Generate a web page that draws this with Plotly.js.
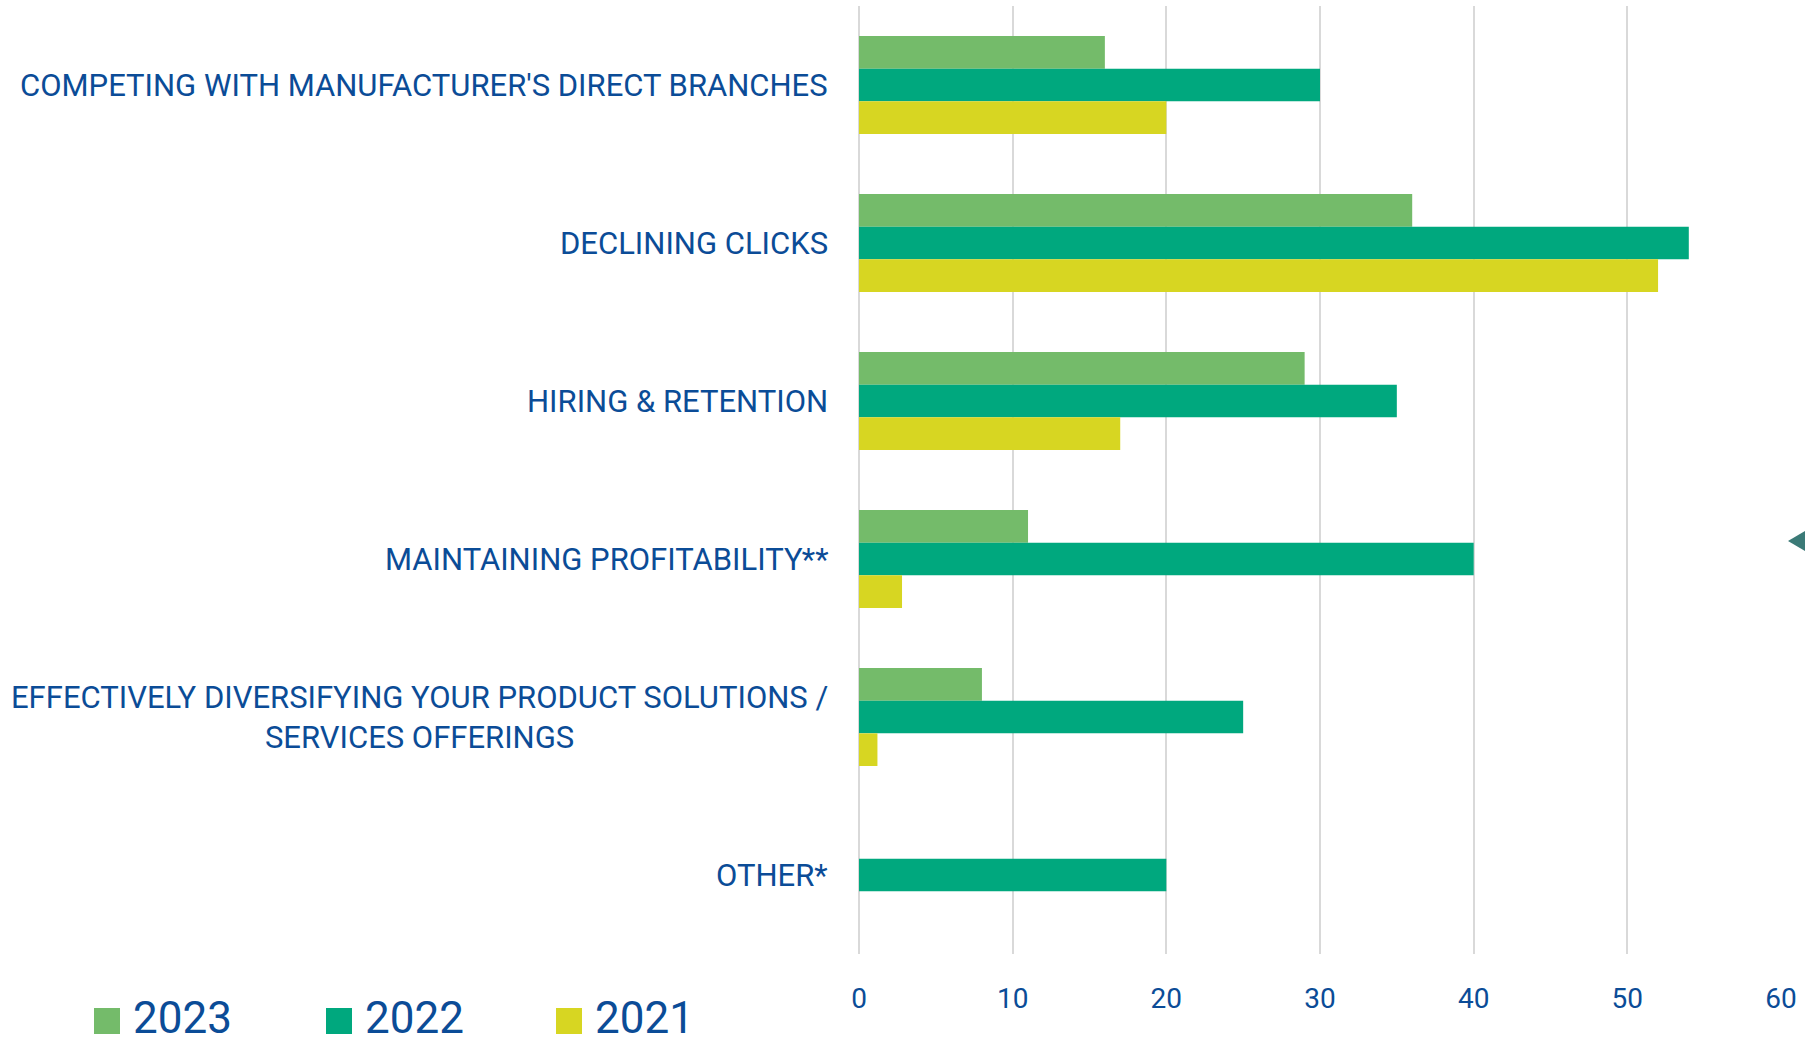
<!DOCTYPE html>
<html>
<head>
<meta charset="utf-8">
<script src="https://cdn.plot.ly/plotly-3.0.1.min.js"></script>
<style>html,body{margin:0;padding:0;background:#fff;}#chart{width:1805px;height:1045px;}</style>
</head>
<body>
<div id="chart"></div>
<script>
// ---- data ----
const categories = [
  "COMPETING WITH MANUFACTURER'S DIRECT BRANCHES",
  "DECLINING CLICKS",
  "HIRING & RETENTION",
  "MAINTAINING PROFITABILITY**",
  "EFFECTIVELY DIVERSIFYING YOUR PRODUCT SOLUTIONS /<br>SERVICES OFFERINGS",
  "OTHER*"
];
const seriesNames = ["2023", "2022", "2021"];
const values2023 = [16, 36, 29, 11, 8, null];
const values2022 = [30, 54, 35, 40, 25, 20];
const values2021 = [20, 52, 17, 2.8, 1.2, null];
const xTickValues = [0, 10, 20, 30, 40, 50, 60];

// ---- styling ----
const colors = ["#74BB6A", "#00A87E", "#D7D622"];
const textColor = "#0B4C97";
const fontFamily = "Roboto, 'Liberation Sans', sans-serif";
const W = 1805, H = 1045;
const plotLeft = 859, plotRight = 1781, plotTop = 6, plotBottom = 954;

const seriesValues = [values2023, values2022, values2021];
const traces = seriesNames.map((name, i) => ({
  type: "bar",
  orientation: "h",
  name: name,
  y: categories,
  x: seriesValues[i],
  marker: { color: colors[i], line: { width: 0 } },
  showlegend: false,
  hoverinfo: "x+name"
}));

// category labels as centered annotations positioned on the category axis
const annotations = categories.map(c => ({
  xref: "paper", yref: "y",
  x: 830 / W, y: c,
  xanchor: "right", yanchor: "middle",
  align: "center",
  text: c,
  showarrow: false,
  font: { family: fontFamily, size: 31, color: textColor }
}));

// custom legend (large squares)
const legendLeft = [94, 326, 556];
const shapes = [];
seriesNames.forEach((name, i) => {
  const x0 = legendLeft[i];
  shapes.push({
    type: "rect", xref: "paper", yref: "paper",
    x0: x0 / W, x1: (x0 + 26) / W,
    y0: 1 - 1034 / H, y1: 1 - 1008 / H,
    fillcolor: colors[i], line: { width: 0 }
  });
  annotations.push({
    xref: "paper", yref: "paper",
    x: (x0 + 38) / W, y: 0,
    xanchor: "left", yanchor: "bottom",
    text: name, showarrow: false,
    borderpad: 0,
    font: { family: fontFamily, size: 44, color: textColor }
  });
});

// decorative arrow at right edge
const ax = v => v / W, ay = v => 1 - v / H;
shapes.push({
  type: "path", xref: "paper", yref: "paper",
  path: `M ${ax(1788)} ${ay(541)} L ${ax(1812)} ${ay(527)} L ${ax(1812)} ${ay(555)} Z`,
  fillcolor: "#3B7A77", line: { width: 0 }
});

const layout = {
  width: W, height: H,
  margin: { l: 0, r: 0, t: 0, b: 0, pad: 0 },
  paper_bgcolor: "#ffffff",
  plot_bgcolor: "#ffffff",
  barmode: "group",
  bargap: 0.38,
  bargroupgap: 0,
  showlegend: false,
  font: { family: fontFamily, color: textColor },
  xaxis: {
    domain: [plotLeft / W, plotRight / W],
    range: [0, 60],
    tickvals: xTickValues,
    ticktext: xTickValues.map(String),
    showgrid: true, gridcolor: "#D9D9D9", gridwidth: 2,
    zeroline: true, zerolinecolor: "#D9D9D9", zerolinewidth: 2,
    showline: false,
    ticks: "",
    ticklabelstandoff: 25,
    tickfont: { family: fontFamily, size: 28, color: textColor },
    fixedrange: true
  },
  yaxis: {
    domain: [1 - plotBottom / H, 1 - plotTop / H],
    type: "category",
    autorange: "reversed",
    showticklabels: false,
    showgrid: false, zeroline: false, showline: false,
    ticks: "",
    fixedrange: true
  },
  shapes: shapes,
  annotations: annotations
};

Plotly.newPlot("chart", traces, layout, { displayModeBar: false, staticPlot: true });
</script>
</body>
</html>
